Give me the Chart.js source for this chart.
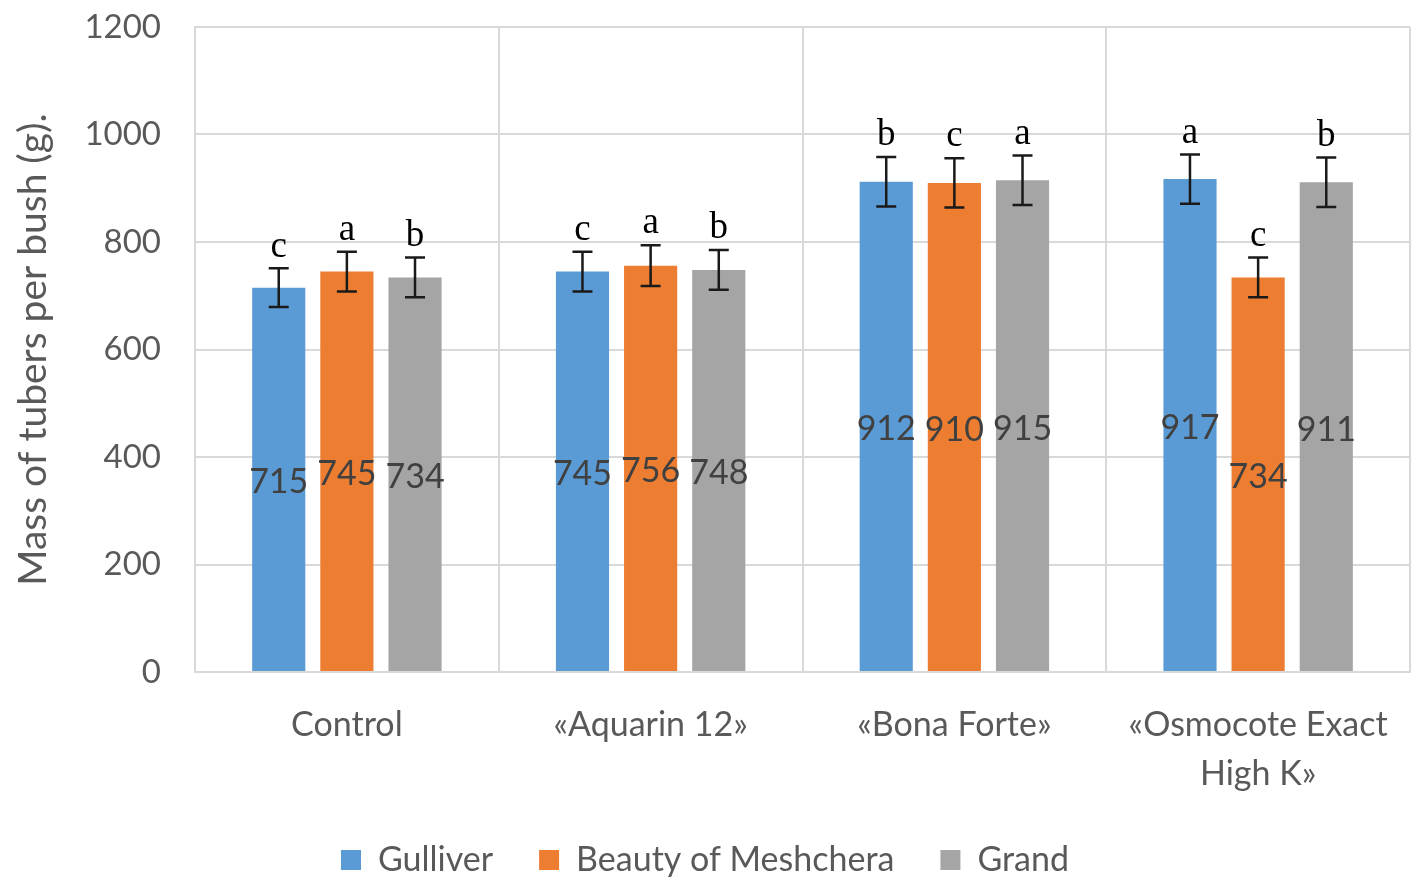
<!DOCTYPE html>
<html lang="en">
<head>
  <meta charset="UTF-8">
  <title>Mass of tubers per bush</title>
  <script src="https://cdn.jsdelivr.net/npm/chart.js"></script>
  <style>
    body {
      margin: 0;
      background: #fff;
    }
    canvas {
      display: block;
    }
  </style>
</head>
<body>

<canvas id="massChart" width="1418" height="887"></canvas>

<script>
  // categories and series
  const categories = ['Control', '«Aquarin 12»', '«Bona Forte»', ['«Osmocote Exact', 'High K»']];
  const varieties = ['Gulliver', 'Beauty of Meshchera', 'Grand'];
  const gulliver = [715, 745, 912, 917];
  const beauty = [745, 756, 910, 734];
  const grand = [734, 748, 915, 911];
  // error bar half-widths (g)
  const gulliverErr = [36, 37, 46, 46];
  const beautyErr = [37, 38, 46, 37];
  const grandErr = [37, 37, 46, 46];
  // significance letters
  const gulliverLetters = ['c', 'c', 'b', 'a'];
  const beautyLetters = ['a', 'a', 'c', 'c'];
  const grandLetters = ['b', 'b', 'a', 'b'];
  const yTicks = [0, 200, 400, 600, 800, 1000, 1200];

  const colors = ['#5b9bd5', '#ed7d31', '#a5a5a5'];
  const labelFont = 'Lato, "Open Sans", sans-serif';

  // error bars, letters and value labels
  const extras = {
    id: 'extras',
    afterDatasetsDraw(chart) {
      const ctx = chart.ctx;
      const y = chart.scales.y;
      chart.data.datasets.forEach((ds, di) => {
        const meta = chart.getDatasetMeta(di);
        meta.data.forEach((bar, i) => {
          const v = ds.data[i];
          const e = ds.err[i];
          const top = y.getPixelForValue(v + e);
          const bot = y.getPixelForValue(v - e);
          ctx.save();
          ctx.strokeStyle = '#1a1a1a';
          ctx.lineWidth = 2.5;
          ctx.beginPath();
          ctx.moveTo(bar.x, top);
          ctx.lineTo(bar.x, bot);
          ctx.moveTo(bar.x - 10, top);
          ctx.lineTo(bar.x + 10, top);
          ctx.moveTo(bar.x - 10, bot);
          ctx.lineTo(bar.x + 10, bot);
          ctx.stroke();

          ctx.fillStyle = '#000';
          ctx.font = '37px "Liberation Serif", "Times New Roman", serif';
          ctx.textAlign = 'center';
          ctx.textBaseline = 'bottom';
          ctx.fillText(ds.letters[i], bar.x, top - 3);

          ctx.fillStyle = '#404040';
          ctx.font = '34px ' + labelFont;
          ctx.textBaseline = 'middle';
          ctx.fillText(String(v), bar.x, (bar.y + bar.base) / 2 + 3);
          ctx.restore();
        });
      });
    }
  };

  new Chart(document.getElementById('massChart').getContext('2d'), {
    type: 'bar',
    data: {
      labels: categories,
      datasets: [
        { label: varieties[0], data: gulliver, err: gulliverErr, letters: gulliverLetters, backgroundColor: colors[0] },
        { label: varieties[1], data: beauty, err: beautyErr, letters: beautyLetters, backgroundColor: colors[1] },
        { label: varieties[2], data: grand, err: grandErr, letters: grandLetters, backgroundColor: colors[2] }
      ]
    },
    options: {
      responsive: false,
      animation: false,
      devicePixelRatio: 1,
      datasets: {
        bar: {
          categoryPercentage: 0.673,
          barPercentage: 0.78
        }
      },
      layout: {
        padding: { left: 0, right: 8, top: 0, bottom: 0 }
      },
      plugins: {
        legend: {
          position: 'bottom',
          labels: {
            boxWidth: 20,
            boxHeight: 20,
            padding: 46,
            color: '#595959',
            font: { family: labelFont, size: 34 }
          }
        },
        tooltip: { enabled: false }
      },
      scales: {
        x: {
          grid: {
            offset: true,
            color: '#d9d9d9',
            lineWidth: 2,
            drawTicks: false
          },
          border: { color: '#d9d9d9', width: 2 },
          ticks: {
            color: '#595959',
            padding: 29,
            font: { family: labelFont, size: 34, lineHeight: 1.44 }
          },
          afterFit(scale) {
            scale.height = 125;
          }
        },
        y: {
          min: 0,
          max: 1200,
          afterBuildTicks(scale) {
            scale.ticks = yTicks.map(v => ({ value: v }));
          },
          grid: {
            color: '#d9d9d9',
            lineWidth: 2,
            drawTicks: false
          },
          border: { color: '#d9d9d9', width: 2 },
          ticks: {
            color: '#595959',
            padding: 34,
            font: { family: labelFont, size: 33 },
            callback: v => String(v)
          },
          title: {
            display: true,
            text: 'Mass of tubers per bush (g).',
            color: '#595959',
            font: { family: labelFont, size: 39 },
            padding: { top: 10, bottom: 22 }
          },
          afterFit(scale) {
            scale.width = 195;
            scale.paddingTop = 27;
            scale.paddingBottom = 0;
          }
        }
      }
    },
    plugins: [extras]
  });
</script>

</body>
</html>
